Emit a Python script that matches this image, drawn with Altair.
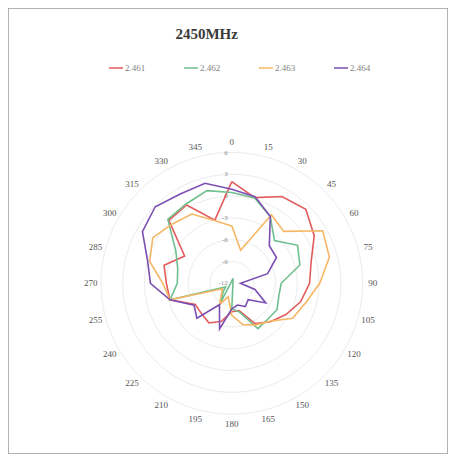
import altair as alt
import pandas as pd
import numpy as np

# ---- data ----
angles = list(range(0, 360, 15))
angle_labels = [str(a) for a in angles]
series_names = ["2.461", "2.462", "2.463", "2.464"]
s2461 = [2.0, 0.2, 1.8, 2.4, 1.1, -0.7, -1.3, -2.2, -3.4, -4.5, -5.6, -8.1,
         -8.1, -6.6, -5.7, -6.1, -6.2, -3.2, -3.0, -2.35, -4.5, 0.25, 0.45, -3.0]
s2462 = [0.5, 0.15, -1.4, -3.7, -1.55, -2.3, -5.2, -5.3, -4.8, -5.0, -4.8, -7.9,
         -8.5, -12.7, -9.0, -10.3, -11.0, -3.2, -4.5, -4.3, -3.1, 0.45, 0.6, 1.2]
s2463 = [-4.1, -7.3, -1.1, -1.9, 2.45, 1.9, 0.1, -1.5, -2.35, -4.6, -5.4, -6.1,
         -7.6, -10.1, -8.6, -10.0, -10.5, -3.2, -2.5, -0.3, 0.55, -0.45, -1.0, -3.1]
s2464 = [0.95, 0.35, -1.4, -4.7, -4.9, -6.9, -10.8, -8.7, -6.6, -8.8, -8.3, -8.9,
         -8.5, -5.5, -8.6, -5.2, -6.0, -3.2, -0.8, 0.0, 2.2, 2.9, 2.2, 2.25]
radial_ticks = [-12, -9, -6, -3, 0, 3, 6]
ring_values = [-9, -6, -3, 0, 3, 6]
colors = ["#E35B5B", "#6FBF8E", "#F6B765", "#7B4FB2"]
title_text = "2450MHz"

RMIN, RMAX = -12, 6

# ---- tables built from the arrays ----
rows = []
for name, vals in zip(series_names, [s2461, s2462, s2463, s2464]):
    for k, (a, v) in enumerate(zip(angles + [360], vals + [vals[0]])):
        rows.append({"series": name, "angle": a, "value": v, "k": k})
series_df = pd.DataFrame(rows)

ring_rows = []
for rv in ring_values:
    for k, a in enumerate(np.arange(0, 361, 2)):
        ring_rows.append({"value": rv, "angle": float(a), "k": k})
ring_df = pd.DataFrame(ring_rows)

tick_df = pd.DataFrame({"value": radial_ticks, "label": [str(t) for t in radial_ticks]})
alabel_df = pd.DataFrame({"angle": angles, "label": angle_labels})

# ---- layout ----
W, H = 440, 446
R_PX = 130.8
CX, CY = 223.8, 275.3
xs = alt.Scale(domain=[-CX / R_PX, (W - CX) / R_PX], nice=False, zero=False)
ys = alt.Scale(domain=[-(H - CY) / R_PX, CY / R_PX], nice=False, zero=False)

def polar(chart, rexpr):
    return chart.transform_calculate(
        r=rexpr
    ).transform_calculate(
        px="datum.r * sin(datum.angle * PI / 180)",
        py="datum.r * cos(datum.angle * PI / 180)",
    )

rnorm = f"(datum.value - ({RMIN})) / ({RMAX - RMIN})"

rings = polar(alt.Chart(ring_df), rnorm).mark_line(
    stroke="#ebebeb", strokeWidth=1
).encode(
    x=alt.X("px:Q", scale=xs, axis=None),
    y=alt.Y("py:Q", scale=ys, axis=None),
    detail="value:N",
    order="k:Q",
)

ticks = alt.Chart(tick_df).transform_calculate(
    r=rnorm, px="0", py="datum.r"
).mark_text(
    align="right", baseline="middle", dx=-4, font="Liberation Serif",
    fontSize=7, color="#8a8a8a"
).encode(
    x=alt.X("px:Q", scale=xs, axis=None),
    y=alt.Y("py:Q", scale=ys, axis=None),
    text="label:N",
)

alabels = polar(alt.Chart(alabel_df), "1.078").mark_text(
    align="center", baseline="middle", font="Liberation Serif",
    fontSize=9, color="#555555"
).encode(
    x=alt.X("px:Q", scale=xs, axis=None),
    y=alt.Y("py:Q", scale=ys, axis=None),
    text="label:N",
)

lines = polar(alt.Chart(series_df), rnorm).mark_line(strokeWidth=1.6).encode(
    x=alt.X("px:Q", scale=xs, axis=None),
    y=alt.Y("py:Q", scale=ys, axis=None),
    color=alt.Color(
        "series:N",
        scale=alt.Scale(domain=series_names, range=colors),
        legend=alt.Legend(
            title=None, orient="none", legendX=100, legendY=52,
            direction="horizontal", columns=4, symbolType="stroke",
            symbolSize=196, symbolStrokeWidth=1.5, labelFont="Liberation Serif",
            labelFontSize=9, labelColor="#7f7f7f", columnPadding=35,
            labelOffset=1, padding=0,
        ),
    ),
    order="k:Q",
)

title = alt.Chart(pd.DataFrame({"t": [title_text]})).mark_text(
    font="Liberation Serif", fontSize=15, fontWeight="bold", color="#3a3a3a",
    align="center", baseline="middle"
).encode(x=alt.value(198.7), y=alt.value(25.5), text="t:N")

chart = alt.layer(rings, ticks, alabels, lines, title).properties(
    width=W, height=H, padding=0, autosize=alt.AutoSizeParams(type="none")
).configure_view(stroke="#9a9a9a", strokeWidth=1.5)

chart.save("out.html", embed_options={"renderer": "svg", "actions": False})
